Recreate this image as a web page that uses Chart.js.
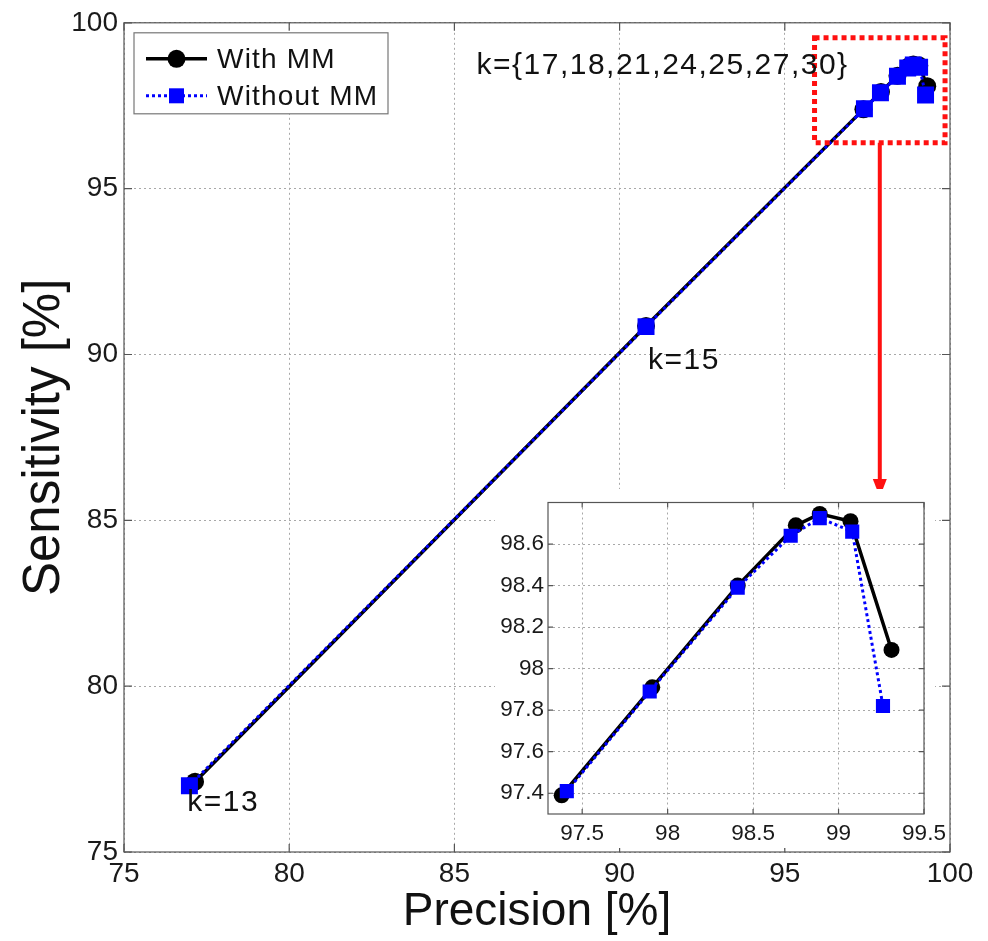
<!DOCTYPE html>
<html><head><meta charset="utf-8">
<script src="https://cdn.jsdelivr.net/npm/chart.js@4.4.0/dist/chart.umd.min.js"></script>
<style>
html,body{margin:0;padding:0;background:#fff;}
#wrap{position:relative;width:988px;height:941px;overflow:hidden;}
#main{position:absolute;left:0;top:0;}
#inset{position:absolute;left:495px;top:470px;}
</style></head><body>
<div id="wrap"><canvas id="main" width="988" height="941"></canvas><canvas id="inset" width="489" height="378"></canvas></div>
<script>
// ---- data ----
const kValues = [13, 15, 17, 18, 21, 24, 25, 27, 30];
const precisionWithMM      = [77.15, 90.80, 97.38, 97.91, 98.41, 98.75, 98.89, 99.07, 99.31];
const sensitivityWithMM    = [77.12, 90.86, 97.39, 97.91, 98.40, 98.69, 98.745, 98.71, 98.09];
const precisionWithoutMM   = [76.98, 90.80, 97.41, 97.895, 98.41, 98.72, 98.89, 99.08, 99.26];
const sensitivityWithoutMM = [77.00, 90.84, 97.41, 97.89, 98.39, 98.64, 98.725, 98.66, 97.82];
const seriesLabels = ['With MM', 'Without MM'];

const mainXTicks = [75, 80, 85, 90, 95, 100];
const mainYTicks = [75, 80, 85, 90, 95, 100];
const insetXTicks = [97.5, 98, 98.5, 99, 99.5];
const insetYTicks = [97.4, 97.6, 97.8, 98, 98.2, 98.4, 98.6];
const insetFirstIndex = 2; // zoomed view shows k >= 17

const annotations = [
  {text: 'k=13', x: 78.0, y: 76.5},
  {text: 'k=15', x: 91.95, y: 89.8},
  {text: 'k={17,18,21,24,25,27,30}', x: 91.3, y: 98.7}
];
const zoomBox = {xMin: 95.9, xMax: 99.85, yMin: 96.38, yMax: 99.55};
const arrowToY = 85.7;

// ---- helpers ----
const FONT = "'Liberation Sans', Arial, Helvetica, sans-serif";
const fmt = v => String(Math.round(v * 10) / 10);
const pts = (xs, ys, from) => xs.slice(from || 0).map((p, i) => ({x: p, y: ys[(from || 0) + i]}));

function frameAndTicks(chart, len) {
  const {ctx, chartArea: a, scales: {x, y}} = chart;
  ctx.save();
  ctx.setLineDash([]);
  ctx.strokeStyle = '#555';
  ctx.lineWidth = 1.2;
  ctx.strokeRect(a.left, a.top, a.right - a.left, a.bottom - a.top);
  ctx.beginPath();
  x.ticks.forEach(t => {
    const px = x.getPixelForValue(t.value);
    ctx.moveTo(px, a.bottom); ctx.lineTo(px, a.bottom - len);
    ctx.moveTo(px, a.top); ctx.lineTo(px, a.top + len);
  });
  y.ticks.forEach(t => {
    const py = y.getPixelForValue(t.value);
    ctx.moveTo(a.left, py); ctx.lineTo(a.left + len, py);
    ctx.moveTo(a.right, py); ctx.lineTo(a.right - len, py);
  });
  ctx.stroke();
  ctx.restore();
}

function makeDatasets(from, circleR, rectR) {
  return [
    {label: seriesLabels[0], data: pts(precisionWithMM, sensitivityWithMM, from), showLine: true,
     borderColor: '#000', backgroundColor: '#000', borderWidth: 3.5, pointStyle: 'circle',
     pointRadius: circleR, pointBorderWidth: 0, order: 1},
    {label: seriesLabels[1], data: pts(precisionWithoutMM, sensitivityWithoutMM, from), showLine: true,
     borderColor: '#0000ff', backgroundColor: '#0000ff', borderWidth: 3, borderDash: [3, 3], pointStyle: 'rect',
     pointRadius: rectR, pointBorderWidth: 0, order: 0}
  ];
}

function axis(min, max, tickArr, fitProp, fitVal, fontSize, pad, title) {
  const o = {
    type: 'linear', min: min, max: max,
    afterBuildTicks: s => { s.ticks = tickArr.map(v => ({value: v})); },
    afterFit: s => { s[fitProp] = fitVal; },
    grid: {color: '#a8a8a8', lineWidth: 1, drawTicks: false},
    border: {display: false, dash: [2, 3]},
    ticks: {font: {family: FONT, size: fontSize}, color: '#1a1a1a', padding: pad, autoSkip: false, maxRotation: 0,
            callback: v => fmt(v)}
  };
  if (title) o.title = title;
  return o;
}

// ---- main chart ----
const mainDecor = {
  id: 'mainDecor',
  beforeDatasetsDraw(chart) { frameAndTicks(chart, 8); },
  afterDatasetsDraw(chart) {
    const {ctx, chartArea: a, scales: {x, y}} = chart;
    ctx.save();
    // zoom box
    ctx.strokeStyle = '#ff1010';
    ctx.lineWidth = 5;
    ctx.setLineDash([5, 4]);
    const bx0 = x.getPixelForValue(zoomBox.xMin), bx1 = x.getPixelForValue(zoomBox.xMax);
    const by0 = y.getPixelForValue(zoomBox.yMax), by1 = y.getPixelForValue(zoomBox.yMin);
    ctx.strokeRect(bx0, by0, bx1 - bx0, by1 - by0);
    // arrow
    ctx.setLineDash([]);
    const ax = (bx0 + bx1) / 2, ay1 = y.getPixelForValue(arrowToY);
    ctx.lineWidth = 4;
    ctx.beginPath(); ctx.moveTo(ax, by1); ctx.lineTo(ax, ay1 - 14); ctx.stroke();
    ctx.fillStyle = '#ff1010';
    ctx.beginPath(); ctx.moveTo(ax, ay1); ctx.lineTo(ax - 7, ay1 - 18); ctx.lineTo(ax + 7, ay1 - 18); ctx.closePath(); ctx.fill();
    // text annotations
    ctx.fillStyle = '#111';
    ctx.font = '30px ' + FONT;
    ctx.letterSpacing = '1.5px';
    ctx.textAlign = 'center';
    ctx.textBaseline = 'middle';
    annotations.forEach(t => ctx.fillText(t.text, x.getPixelForValue(t.x), y.getPixelForValue(t.y)));
    // legend
    const lx = a.left + 10, ly = a.top + 10, lw = 254, lh = 81;
    ctx.letterSpacing = '1.2px';
    ctx.fillStyle = '#fff';
    ctx.fillRect(lx, ly, lw, lh);
    ctx.strokeStyle = '#777'; ctx.lineWidth = 1.2;
    ctx.strokeRect(lx, ly, lw, lh);
    chart.data.datasets.forEach((ds, i) => {
      const cy = ly + 26 + i * 37, x0 = lx + 12, x1 = lx + 73, cx = (x0 + x1) / 2;
      ctx.strokeStyle = ds.borderColor; ctx.lineWidth = ds.borderWidth;
      ctx.setLineDash(ds.borderDash || []);
      ctx.beginPath(); ctx.moveTo(x0, cy); ctx.lineTo(x1, cy); ctx.stroke();
      ctx.setLineDash([]);
      ctx.fillStyle = ds.backgroundColor;
      if (ds.pointStyle === 'circle') { ctx.beginPath(); ctx.arc(cx, cy, 9, 0, Math.PI * 2); ctx.fill(); }
      else { ctx.fillRect(cx - 7.5, cy - 7.5, 15, 15); }
      ctx.fillStyle = '#111';
      ctx.font = '28px ' + FONT;
      ctx.textAlign = 'left';
      ctx.fillText(ds.label, lx + 83, cy + 1);
    });
    ctx.restore();
  }
};

new Chart(document.getElementById('main'), {
  type: 'scatter',
  data: {datasets: makeDatasets(0, 9, 12)},
  options: {
    responsive: false, animation: false, events: [], devicePixelRatio: 1,
    layout: {padding: {left: 0, right: 38, top: 17, bottom: 0}},
    plugins: {legend: {display: false}, tooltip: {enabled: false}},
    scales: {
      x: axis(75, 100, mainXTicks, 'height', 89, 28, 5,
        {display: true, text: 'Precision [%]', color: '#111', font: {family: FONT, size: 46}, padding: {top: 0, bottom: 1.5}}),
      y: axis(75, 100, mainYTicks, 'width', 124, 28, 6,
        {display: true, text: 'Sensitivity [%]', color: '#111', font: {family: FONT, size: 51}, padding: {top: 14, bottom: 0}})
    }
  },
  plugins: [mainDecor]
});

// ---- inset chart ----
const insetDecor = {
  id: 'insetDecor',
  beforeDraw(chart) { const c = chart.ctx; c.save(); c.fillStyle = '#fff'; c.fillRect(0, 19, 440, chart.height - 19); c.restore(); },
  beforeDatasetsDraw(chart) { frameAndTicks(chart, 5); }
};

new Chart(document.getElementById('inset'), {
  type: 'scatter',
  data: {datasets: makeDatasets(insetFirstIndex, 8, 10)},
  options: {
    responsive: false, animation: false, events: [], devicePixelRatio: 1,
    layout: {padding: {left: 0, right: 60, top: 32.5, bottom: 0}},
    plugins: {legend: {display: false}, tooltip: {enabled: false}},
    scales: {
      x: axis(97.3, 99.5, insetXTicks, 'height', 34, 22.5, 6),
      y: axis(97.3, 98.8, insetYTicks, 'width', 53, 22.5, 4)
    }
  },
  plugins: [insetDecor]
});
</script>
</body></html>
